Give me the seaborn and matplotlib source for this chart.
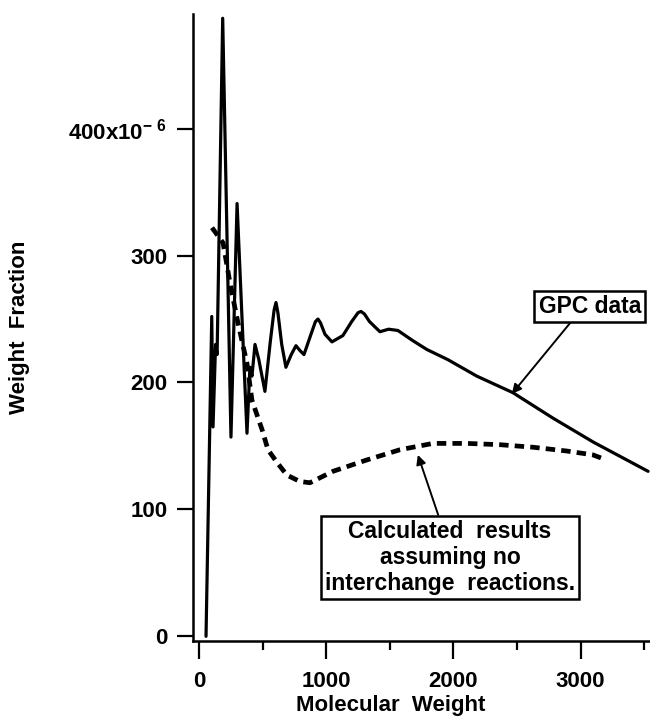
import numpy as np
import pandas as pd
import matplotlib
matplotlib.use("Agg")
import matplotlib.pyplot as plt
import seaborn as sns

# GPC trace: molecular weight vs weight fraction (x10^-6)
gpc_mw = [55, 100, 110, 130, 142, 186, 251, 299, 377, 400, 416, 440,
          470, 518, 560, 590, 605, 620, 650, 683, 725, 762, 795, 825,
          880, 915, 935, 955, 990, 1045, 1131, 1200, 1250, 1273, 1300,
          1340, 1422, 1490, 1563, 1680, 1791, 1956, 2184, 2467, 2781,
          3100, 3530]
gpc_wf = [0, 252, 165, 230, 222, 487, 157, 341, 160, 212, 205, 230,
          218, 193, 232, 257, 263, 255, 230, 212, 222, 229, 225, 222,
          238, 248, 250, 247, 238, 232, 237, 248, 255, 256, 254,
          248, 240, 242, 241, 233, 226, 218, 205, 192, 172, 153, 130]

# Model curve without interchange reactions
calc_mw = [102, 189, 244, 306, 377, 416, 495, 542, 613, 691, 793, 872,
           1053, 1320, 1579, 1838, 2105, 2364, 2624, 2891, 3095, 3174]
calc_wf = [322, 310, 278, 247, 215, 186, 163, 147, 137, 127, 122, 121,
           130, 139, 147, 152, 152, 151, 149, 146, 143, 140]

y_ticks = [0, 100, 200, 300, 400]
y_tick_labels = ["0", "100", "200", "300", r"400x10$^{\mathregular{-\ 6}}$"]
x_ticks = [0, 1000, 2000, 3000]
x_minor = [500, 1500, 2500, 3500]

gpc = pd.DataFrame({"mw": gpc_mw, "wf": gpc_wf})
calc = pd.DataFrame({"mw": calc_mw, "wf": calc_wf})

sns.set_theme(style="ticks")
plt.rcParams["font.family"] = ["Liberation Sans", "DejaVu Sans"]
plt.rcParams["font.weight"] = "bold"
plt.rcParams["axes.labelweight"] = "bold"
plt.rcParams["mathtext.fontset"] = "custom"
plt.rcParams["mathtext.rm"] = "Liberation Sans:bold"
plt.rcParams["mathtext.default"] = "regular"
for key in ["text.color", "axes.labelcolor", "xtick.color", "ytick.color"]:
    plt.rcParams[key] = "black"

fig = plt.figure(figsize=(6.5, 7.24), dpi=100)
ax = fig.add_axes([0.297, 0.115, 0.703, 0.865])

sns.lineplot(data=gpc, x="mw", y="wf", ax=ax, color="black", lw=2.3,
             sort=False, estimator=None)
sns.lineplot(data=calc, x="mw", y="wf", ax=ax, color="black", lw=3.4,
             sort=False, estimator=None)
ax.lines[1].set_dashes((2.0, 1.3))
ax.lines[1].set_dash_capstyle("butt")
ax.lines[0].set_solid_joinstyle("round")

ax.set_xlim(-47, 3545)
ax.set_ylim(-3.5, 490)

for s in ["top", "right"]:
    ax.spines[s].set_visible(False)
for s in ["left", "bottom"]:
    ax.spines[s].set_linewidth(1.8)
    ax.spines[s].set_color("black")

ax.set_yticks(y_ticks)
ax.set_yticklabels(y_tick_labels)
ax.set_xticks(x_ticks)
ax.set_xticks(x_minor, minor=True)
ax.tick_params(axis="y", direction="out", length=11.5, width=1.6, pad=7,
               labelsize=16)
ax.tick_params(axis="x", which="major", direction="out", length=13, width=1.6,
               pad=9, labelsize=16)
ax.tick_params(axis="x", which="minor", direction="out", length=6.5, width=1.6)

ax.set_xlabel("Molecular  Weight", fontsize=16)
ax.set_ylabel("Weight  Fraction", fontsize=16)
ax.xaxis.set_label_coords(0.433, -0.086)
ax.xaxis.label.set_va("top")
ax.yaxis.set_label_coords(-0.379, 0.5)
ax.yaxis.label.set_va("center")

box = dict(boxstyle="square,pad=0.18", fc="white", ec="black", lw=1.8)
arrow = dict(arrowstyle="-|>", color="black", lw=1.4, mutation_scale=14,
             shrinkA=0, shrinkB=0)

ax.annotate("GPC data", xy=(2459, 191), xytext=(3071, 260),
            ha="center", va="center", fontsize=16.5, bbox=box,
            arrowprops=dict(arrow, relpos=(0.35, 0.0)))
ax.annotate("Calculated  results\nassuming no\ninterchange  reactions.",
            xy=(1720, 143), xytext=(1972, 62), ha="center", va="center",
            multialignment="center", fontsize=16.5, linespacing=1.18, bbox=box,
            arrowprops=dict(arrow, relpos=(0.46, 1.0)))

fig.savefig("out.png", dpi=100)
